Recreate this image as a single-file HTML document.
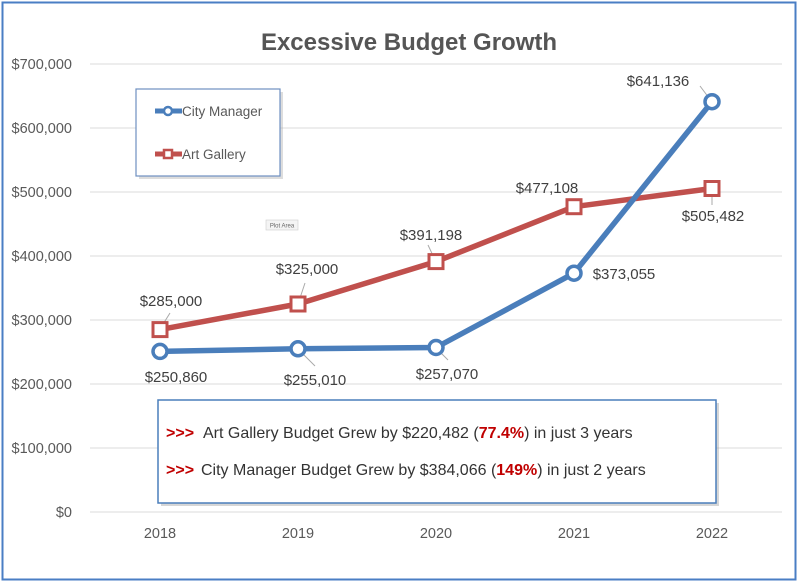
<!DOCTYPE html>
<html><head><style>
html,body{margin:0;padding:0;background:#fff;}
svg{display:block;}
</style></head><body>
<svg width="798" height="583" viewBox="0 0 798 583" xmlns="http://www.w3.org/2000/svg" font-family="Liberation Sans, sans-serif">
<rect x="2.5" y="2.5" width="793" height="577" fill="#fff" stroke="#4a7ec4" stroke-width="2"/>
<text x="409" y="50" text-anchor="middle" font-size="24" font-weight="bold" fill="#555">Excessive Budget Growth</text>
<g stroke="#e2e2e2" stroke-width="1.2">
<line x1="90" x2="782" y1="64" y2="64"/><line x1="90" x2="782" y1="128" y2="128"/>
<line x1="90" x2="782" y1="192" y2="192"/><line x1="90" x2="782" y1="256" y2="256"/>
<line x1="90" x2="782" y1="320" y2="320"/><line x1="90" x2="782" y1="384" y2="384"/>
<line x1="90" x2="782" y1="448" y2="448"/><line x1="90" x2="782" y1="512" y2="512"/>
</g>
<g font-size="14.5" fill="#595959" text-anchor="end">
<text x="72" y="69">$700,000</text><text x="72" y="133">$600,000</text>
<text x="72" y="197">$500,000</text><text x="72" y="261">$400,000</text>
<text x="72" y="325">$300,000</text><text x="72" y="389">$200,000</text>
<text x="72" y="453">$100,000</text><text x="72" y="517">$0</text>
</g>
<g font-size="14.5" fill="#595959" text-anchor="middle">
<text x="160" y="538">2018</text><text x="298" y="538">2019</text><text x="436" y="538">2020</text>
<text x="574" y="538">2021</text><text x="712" y="538">2022</text>
</g>
<g stroke="#aaa" stroke-width="1" fill="none">
<line x1="160" y1="329" x2="170" y2="313"/><line x1="298" y1="304" x2="305" y2="283"/>
<line x1="436" y1="262" x2="428" y2="245"/><line x1="712" y1="102" x2="700" y2="86"/>
<line x1="712" y1="189" x2="712" y2="205"/><line x1="160" y1="351" x2="167" y2="357"/>
<line x1="298" y1="349" x2="315" y2="366"/><line x1="436" y1="348" x2="448" y2="360"/>
</g>
<polyline points="160,329.6 298,304 436,261.6 574,206.7 712,188.5" fill="none" stroke="#c0504d" stroke-width="5.5" stroke-linejoin="round"/>
<polyline points="160,351.4 298,348.8 436,347.5 574,273.2 712,101.7" fill="none" stroke="#4a7ebb" stroke-width="5.5" stroke-linejoin="round"/>
<g fill="#fff" stroke="#c0504d" stroke-width="3">
<rect x="153" y="322.6" width="14" height="14"/><rect x="291" y="297" width="14" height="14"/>
<rect x="429" y="254.6" width="14" height="14"/><rect x="567" y="199.7" width="14" height="14"/>
<rect x="705" y="181.5" width="14" height="14"/>
</g>
<g fill="#fff" stroke="#4a7ebb" stroke-width="3.5">
<circle cx="160" cy="351.4" r="7"/><circle cx="298" cy="348.8" r="7"/><circle cx="436" cy="347.5" r="7"/>
<circle cx="574" cy="273.2" r="7"/><circle cx="712" cy="101.7" r="7"/>
</g>
<g font-size="15" fill="#404040" text-anchor="middle">
<text x="171" y="306">$285,000</text><text x="307" y="274">$325,000</text><text x="431" y="240">$391,198</text>
<text x="547" y="193">$477,108</text><text x="658" y="86">$641,136</text><text x="713" y="221">$505,482</text>
<text x="176" y="382">$250,860</text><text x="315" y="385">$255,010</text><text x="447" y="379">$257,070</text>
<text x="624" y="279">$373,055</text>
</g>
<rect x="139" y="92" width="144" height="87" fill="#aaa" opacity="0.4"/>
<rect x="136" y="89" width="144" height="87" fill="#fff" stroke="#6e8fc0" stroke-width="1.2"/>
<line x1="155" x2="182" y1="111" y2="111" stroke="#4a7ebb" stroke-width="5"/>
<circle cx="168" cy="111" r="4" fill="#fff" stroke="#4a7ebb" stroke-width="2.5"/>
<text x="182" y="116" font-size="13.5" fill="#595959">City Manager</text>
<line x1="155" x2="182" y1="154" y2="154" stroke="#c0504d" stroke-width="5"/>
<rect x="164" y="150" width="8" height="8" fill="#fff" stroke="#c0504d" stroke-width="2.5"/>
<text x="182" y="159" font-size="13.5" fill="#595959">Art Gallery</text>
<rect x="266" y="220" width="32" height="10" fill="#f4f4f4" stroke="#ccc" stroke-width="0.6"/>
<text x="282" y="227.5" font-size="6" fill="#666" text-anchor="middle">Plot Area</text>
<rect x="161" y="403" width="558" height="103" fill="#999" opacity="0.4"/>
<rect x="158" y="400" width="558" height="103" fill="#fff" stroke="#4a7ebb" stroke-width="1.5"/>
<g font-size="16" fill="#333">
<text x="166" y="438"><tspan fill="#c00000" font-weight="bold">&gt;&gt;&gt;</tspan><tspan x="203">Art Gallery Budget Grew by $220,482 (</tspan><tspan fill="#c00000" font-weight="bold">77.4%</tspan>) in just 3 years</text>
<text x="166" y="475"><tspan fill="#c00000" font-weight="bold">&gt;&gt;&gt;</tspan><tspan x="201">City Manager Budget Grew by $384,066 (</tspan><tspan fill="#c00000" font-weight="bold">149%</tspan>) in just 2 years</text>
</g>
</svg>
</body></html>
